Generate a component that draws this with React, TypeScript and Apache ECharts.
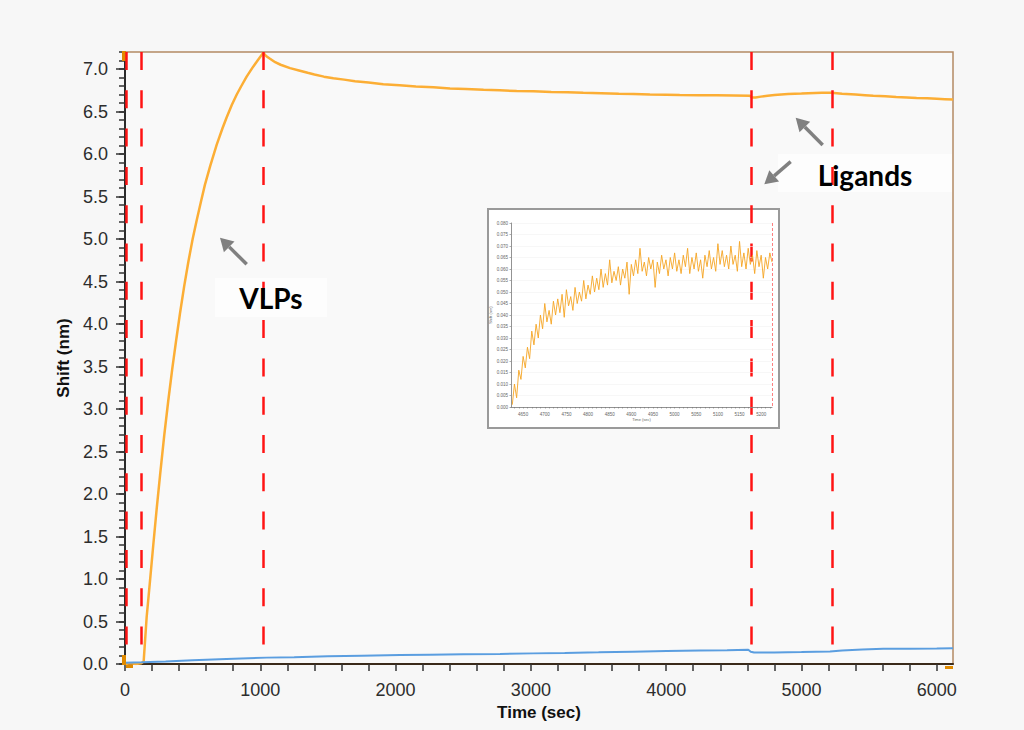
import React, { useEffect, useRef } from 'react';
import * as echarts from 'echarts';

// Main sensorgram axes
const X_MAX = 6120;
const Y_MAX = 7.2;
const X_LABELS = [0, 1000, 2000, 3000, 4000, 5000, 6000];
const X_TICKS = [
  0, 200, 400, 600, 800, 1000, 1200, 1400, 1600, 1800, 2000, 2200, 2400, 2600, 2800, 3000,
  3200, 3400, 3600, 3800, 4000, 4200, 4400, 4600, 4800, 5000, 5200, 5400, 5600, 5800, 6000,
];
const Y_LABELS = [0, 0.5, 1.0, 1.5, 2.0, 2.5, 3.0, 3.5, 4.0, 4.5, 5.0, 5.5, 6.0, 6.5, 7.0];
const Y_MINOR = Array.from({ length: 73 }, (_, i) => i / 10);

// Step boundaries (sec): baseline, VLP loading end, ligand start, ligand end
const STEP_TIMES = [6, 120, 1020, 4627, 5225];

// Sample sensor: VLP loading, dissociation, ligand association
const SAMPLE: [number, number][] = [
  [0, 0.0], [40, 0.01], [80, 0.0], [120, 0.01], [138, 0.03], [160, 0.55], [185, 0.98],
  [209, 1.4], [235, 1.84], [259, 2.22], [290, 2.69], [320, 3.1], [350, 3.48], [380, 3.83],
  [406, 4.12], [437, 4.44], [468, 4.73], [500, 5.0], [530, 5.22], [560, 5.43], [591, 5.64],
  [630, 5.86], [678, 6.11], [720, 6.3], [751, 6.43], [790, 6.58], [826, 6.7], [860, 6.8],
  [899, 6.91], [940, 7.01], [980, 7.1], [1022, 7.19],
  [1045, 7.15], [1072, 7.12], [1110, 7.08], [1150, 7.05], [1220, 7.01], [1293, 6.98],
  [1350, 6.955], [1400, 6.935], [1470, 6.91], [1540, 6.89], [1620, 6.875], [1700, 6.855],
  [1800, 6.84], [1909, 6.82], [2030, 6.81], [2150, 6.795], [2280, 6.785], [2402, 6.77],
  [2520, 6.765], [2650, 6.755], [2770, 6.75], [2895, 6.74], [3020, 6.738], [3150, 6.73],
  [3270, 6.726], [3387, 6.72], [3520, 6.716], [3650, 6.71], [3760, 6.707], [3880, 6.70],
  [4000, 6.698], [4100, 6.695], [4240, 6.692], [4373, 6.69], [4500, 6.688], [4620, 6.685],
  [4632, 6.665], [4660, 6.665], [4700, 6.675], [4750, 6.685], [4800, 6.693], [4850, 6.70],
  [4900, 6.705], [4950, 6.71], [5000, 6.712], [5050, 6.715], [5100, 6.718], [5150, 6.72],
  [5223, 6.72], [5300, 6.71], [5400, 6.70], [5470, 6.692], [5531, 6.685], [5620, 6.678],
  [5700, 6.67], [5780, 6.665], [5851, 6.66], [5930, 6.655], [6000, 6.65], [6060, 6.645],
  [6120, 6.64],
];

// Reference sensor
const REFERENCE: [number, number][] = [
  [0, 0.015], [125, 0.02], [300, 0.03], [500, 0.045], [750, 0.06], [1047, 0.075],
  [1250, 0.08], [1500, 0.09], [1750, 0.098], [2032, 0.105], [2250, 0.11], [2500, 0.115],
  [2772, 0.118], [3016, 0.125], [3250, 0.13], [3500, 0.137], [3750, 0.145], [4004, 0.152],
  [4250, 0.158], [4450, 0.162], [4607, 0.168], [4625, 0.145], [4650, 0.135], [4800, 0.135],
  [5000, 0.14], [5211, 0.148], [5300, 0.16], [5450, 0.17], [5605, 0.178], [5800, 0.18],
  [6000, 0.182], [6120, 0.186],
];

// Inset: ligand association step, shift relative to step start
const INSET_X_MIN = 4622;
const INSET_X_MAX = 5225;
const INSET_T0 = 4625;
const INSET_DT = 5;
const INSET_X_LABELS = [4650, 4700, 4750, 4800, 4850, 4900, 4950, 5000, 5050, 5100, 5150, 5200];
const INSET_SHIFT = [
  0.001, 0.010, 0.004, 0.016, 0.012, 0.022, 0.017, 0.026, 0.021, 0.033,
  0.027, 0.036, 0.030, 0.040, 0.034, 0.045, 0.037, 0.042, 0.036, 0.046,
  0.040, 0.047, 0.041, 0.049, 0.039, 0.051, 0.044, 0.048, 0.042, 0.052,
  0.045, 0.050, 0.046, 0.055, 0.047, 0.053, 0.049, 0.057, 0.050, 0.056,
  0.051, 0.060, 0.052, 0.058, 0.053, 0.064, 0.054, 0.059, 0.055, 0.061,
  0.053, 0.060, 0.056, 0.063, 0.049, 0.062, 0.057, 0.064, 0.058, 0.069,
  0.059, 0.063, 0.057, 0.065, 0.060, 0.064, 0.052, 0.063, 0.058, 0.066,
  0.060, 0.064, 0.057, 0.065, 0.060, 0.067, 0.059, 0.064, 0.058, 0.066,
  0.061, 0.069, 0.058, 0.065, 0.060, 0.067, 0.059, 0.064, 0.056, 0.066,
  0.061, 0.068, 0.060, 0.065, 0.059, 0.071, 0.062, 0.068, 0.061, 0.066,
  0.060, 0.070, 0.062, 0.066, 0.059, 0.072, 0.061, 0.067, 0.060, 0.069,
  0.062, 0.066, 0.058, 0.068, 0.061, 0.066, 0.056, 0.065, 0.060, 0.067,
  0.063,
];

const AXIS_FONT = '"Liberation Sans", Arial, Helvetica, sans-serif';
const NOTE_FONT = 'Lato, "Open Sans", sans-serif';
const ORANGE = '#fcae35';
const BLUE = '#5b9ee0';
const ARROW = '#808080';

function arrow(x1: number, y1: number, x2: number, y2: number) {
  const dx = x2 - x1;
  const dy = y2 - y1;
  const len = Math.hypot(dx, dy);
  const ux = dx / len;
  const uy = dy / len;
  const hl = 13;
  const hw = 7.5;
  const bx = x2 - ux * hl;
  const by = y2 - uy * hl;
  const px = -uy;
  const py = ux;
  return [
    {
      type: 'line',
      z: 6,
      shape: { x1, y1, x2: bx, y2: by },
      style: { stroke: ARROW, lineWidth: 3.5 },
    },
    {
      type: 'polygon',
      z: 6,
      shape: {
        points: [
          [x2, y2],
          [bx + px * hw, by + py * hw],
          [bx - px * hw, by - py * hw],
        ],
      },
      style: { fill: ARROW },
    },
  ];
}

export default function App() {
  const ref = useRef<HTMLDivElement>(null);

  useEffect(() => {
    if (!ref.current) return;
    const chart = echarts.init(ref.current, undefined, { renderer: 'svg' });

    const insetData = INSET_SHIFT.map((v, i) => [INSET_T0 + i * INSET_DT, v]);
    const insetTicks: number[] = [];
    for (let t = 4630; t <= INSET_X_MAX; t += 10) insetTicks.push(t);

    const option = {
      animation: false,
      backgroundColor: '#f7f7f7',
      grid: [
        {
          left: 125,
          right: 71,
          top: 52,
          bottom: 66,
          show: true,
          backgroundColor: '#f9f9f9',
          borderColor: '#b48a64',
          borderWidth: 1.5,
        },
        { left: 511, right: 252, top: 223, bottom: 323 },
      ],
      xAxis: [
        {
          type: 'value',
          gridIndex: 0,
          min: 0,
          max: X_MAX,
          axisLine: { show: true, lineStyle: { color: '#3a2a1a', width: 2 } },
          axisTick: {
            show: true,
            customValues: X_TICKS,
            length: 7,
            lineStyle: { color: '#333', width: 1.5 },
          },
          axisLabel: {
            customValues: X_LABELS,
            formatter: (v: number) => String(v),
            margin: 17,
            fontSize: 18,
            color: '#2d2d2d',
            fontFamily: AXIS_FONT,
          },
          splitLine: { show: false },
          name: 'Time (sec)',
          nameLocation: 'middle',
          nameGap: 35,
          nameTextStyle: { fontSize: 17, fontWeight: 'bold', color: '#111', fontFamily: AXIS_FONT },
        },
        {
          type: 'value',
          gridIndex: 1,
          min: INSET_X_MIN,
          max: INSET_X_MAX,
          z: 6,
          axisLine: { show: true, lineStyle: { color: '#777', width: 0.8 } },
          axisTick: { show: true, customValues: insetTicks, length: 1.5, lineStyle: { color: '#777', width: 0.6 } },
          axisLabel: {
            customValues: INSET_X_LABELS,
            formatter: (v: number) => String(v),
            margin: 5,
            fontSize: 4.5,
            color: '#666',
            fontFamily: AXIS_FONT,
          },
          splitLine: { show: false },
          name: 'Time (sec)',
          nameLocation: 'middle',
          nameGap: 8,
          nameTextStyle: { fontSize: 4, color: '#666', fontFamily: AXIS_FONT },
        },
      ],
      yAxis: [
        {
          type: 'value',
          gridIndex: 0,
          min: 0,
          max: Y_MAX,
          position: 'left',
          axisLine: { show: true, lineStyle: { color: '#2b2b2b', width: 2 } },
          axisTick: {
            show: true,
            customValues: Y_LABELS,
            length: 9,
            lineStyle: { color: '#333', width: 1.5 },
          },
          axisLabel: {
            customValues: Y_LABELS,
            formatter: (v: number) => v.toFixed(1),
            margin: 17,
            fontSize: 18,
            color: '#2d2d2d',
            fontFamily: AXIS_FONT,
          },
          splitLine: { show: false },
          name: 'Shift (nm)',
          nameLocation: 'middle',
          nameGap: 40,
          nameTextStyle: { fontSize: 17, fontWeight: 'bold', color: '#111', fontFamily: AXIS_FONT },
        },
        {
          type: 'value',
          gridIndex: 0,
          min: 0,
          max: Y_MAX,
          position: 'left',
          axisLine: { show: false },
          axisTick: {
            show: true,
            customValues: Y_MINOR,
            length: 6,
            lineStyle: { color: '#333', width: 1.5 },
          },
          axisLabel: { show: false },
          splitLine: { show: false },
        },
        {
          type: 'value',
          gridIndex: 1,
          min: 0,
          max: 0.08,
          interval: 0.005,
          z: 6,
          axisLine: { show: true, lineStyle: { color: '#777', width: 0.8 } },
          axisTick: { show: true, length: 1.5, lineStyle: { color: '#777', width: 0.6 } },
          axisLabel: {
            formatter: (v: number) => v.toFixed(3),
            margin: 3,
            fontSize: 4.5,
            color: '#666',
            fontFamily: AXIS_FONT,
          },
          splitLine: { show: true, lineStyle: { color: '#f1f1f1', width: 0.6 } },
          name: 'Shift (nm)',
          nameLocation: 'middle',
          nameGap: 15,
          nameTextStyle: { fontSize: 4, color: '#666', fontFamily: AXIS_FONT },
        },
      ],
      series: [
        {
          type: 'line',
          name: 'Sample',
          xAxisIndex: 0,
          yAxisIndex: 0,
          data: SAMPLE,
          showSymbol: false,
          symbol: 'none',
          lineStyle: { color: ORANGE, width: 2.5 },
          silent: true,
          z: 2,
        },
        {
          type: 'line',
          name: 'Reference',
          xAxisIndex: 0,
          yAxisIndex: 0,
          data: REFERENCE,
          showSymbol: false,
          symbol: 'none',
          lineStyle: { color: BLUE, width: 2 },
          silent: true,
          z: 2,
        },
        {
          type: 'line',
          name: 'Steps',
          xAxisIndex: 0,
          yAxisIndex: 0,
          data: [],
          silent: true,
          z: 3,
          markLine: {
            silent: true,
            symbol: ['none', 'none'],
            label: { show: false },
            emphasis: { disabled: true },
            lineStyle: { color: '#ff1414', width: 2.5, type: [18, 20.3] },
            data: STEP_TIMES.map((t) => [{ coord: [t, Y_MAX] }, { coord: [t, 0] }]),
          },
        },
        {
          type: 'line',
          name: 'Ligand association',
          xAxisIndex: 1,
          yAxisIndex: 2,
          data: insetData,
          showSymbol: false,
          symbol: 'none',
          lineStyle: { color: '#f5a524', width: 0.9 },
          silent: true,
          z: 7,
          markLine: {
            silent: true,
            symbol: ['none', 'none'],
            label: { show: false },
            emphasis: { disabled: true },
            lineStyle: { color: '#ff6060', width: 0.8, type: [3, 2] },
            data: [[{ coord: [INSET_X_MAX, 0.08] }, { coord: [INSET_X_MAX, 0] }]],
          },
        },
      ],
      graphic: {
        elements: [
          // inset frame
          {
            type: 'rect',
            z: 5,
            shape: { x: 488, y: 209, width: 291, height: 219 },
            style: { fill: '#ffffff', stroke: '#9a9a9a', lineWidth: 2 },
          },
          // axis end markers
          { type: 'rect', z: 4, shape: { x: 122, y: 51, width: 4, height: 10 }, style: { fill: '#e08a00' } },
          { type: 'rect', z: 4, shape: { x: 122, y: 655, width: 4, height: 10 }, style: { fill: '#e08a00' } },
          { type: 'rect', z: 4, shape: { x: 126, y: 665, width: 7, height: 3 }, style: { fill: '#e08a00' } },
          { type: 'rect', z: 4, shape: { x: 945, y: 666, width: 8, height: 3 }, style: { fill: '#e08a00' } },
          // annotations
          {
            type: 'rect',
            z: 5,
            shape: { x: 215, y: 278, width: 112, height: 39 },
            style: { fill: '#fdfdfd' },
          },
          {
            type: 'text',
            z: 6,
            x: 271,
            y: 298,
            style: {
              text: 'VLPs',
              fill: '#000',
              font: `bold 28px ${NOTE_FONT}`,
              align: 'center',
              verticalAlign: 'middle',
            },
          },
          {
            type: 'rect',
            z: 5,
            shape: { x: 778, y: 154, width: 174, height: 38 },
            style: { fill: '#fdfdfd' },
          },
          {
            type: 'text',
            z: 6,
            x: 865,
            y: 175,
            style: {
              text: 'Ligands',
              fill: '#000',
              font: `bold 28px ${NOTE_FONT}`,
              align: 'center',
              verticalAlign: 'middle',
            },
          },
          ...arrow(246.7, 264.3, 220, 237.7),
          ...arrow(822.7, 145, 795.7, 117.7),
          ...arrow(790.7, 161.7, 764.3, 184.3),
        ],
      },
    };

    chart.setOption(option as any);
    return () => chart.dispose();
  }, []);

  return (
    <div
      ref={ref}
      style={{ position: 'fixed', left: 0, top: 0, width: 1024, height: 730 }}
    />
  );
}
